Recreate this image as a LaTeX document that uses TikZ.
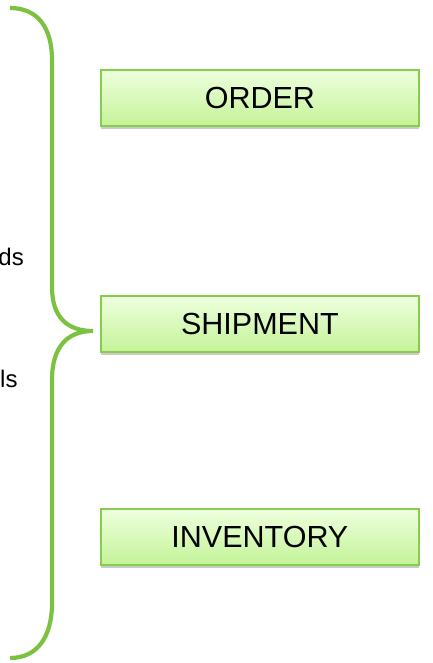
\documentclass[tikz,border=0pt]{standalone}
\usepackage{fontspec}
\setmainfont{Liberation Sans}
\usetikzlibrary{shadows}
\definecolor{bracegreen}{RGB}{124,194,66}
\definecolor{boxborder}{RGB}{136,204,78}
\definecolor{boxtop}{RGB}{238,255,222}
\definecolor{boxbot}{RGB}{196,243,152}
\tikzset{
  entity/.style={draw=boxborder, line width=1.8pt, top color=boxtop, bottom color=boxbot,
    minimum width=318pt, minimum height=56pt, inner sep=0pt, anchor=north west,
    font=\fontsize{30.5}{32}\selectfont,
    drop shadow={shadow xshift=0pt, shadow yshift=-3pt, opacity=0.35, fill=black!60}},
  bracepath/.style={draw=bracegreen, line width=4.2pt, line cap=butt},
  sidetext/.style={font=\fontsize{24}{26}\selectfont, inner sep=0pt}
}
\begin{document}
\begin{tikzpicture}[x=1pt,y=-1pt]
\useasboundingbox (0,0) rectangle (432,663);
\node[entity] (order) at (100,69) {ORDER};
\node[entity] (ship) at (100,295) {SHIPMENT};
\node[entity] (inv) at (100,508) {INVENTORY};
\node[sidetext, anchor=base east] (t1) at (24,265) {ds};
\node[sidetext, anchor=base west] (t2) at (0,387) {ls};
\coordinate (btop) at (10,8);
\coordinate (bbot) at (10,658);
\coordinate (btip) at (93,331);
\draw[bracepath] (btop) .. controls (38,8) and (52,28) .. (52,60)
  -- (52,287) .. controls (52,318) and (68,331) .. (btip)
  .. controls (68,331) and (52,346) .. (52,380)
  -- (52,603) .. controls (52,636) and (38,658) .. (bbot);
\end{tikzpicture}
\end{document}
